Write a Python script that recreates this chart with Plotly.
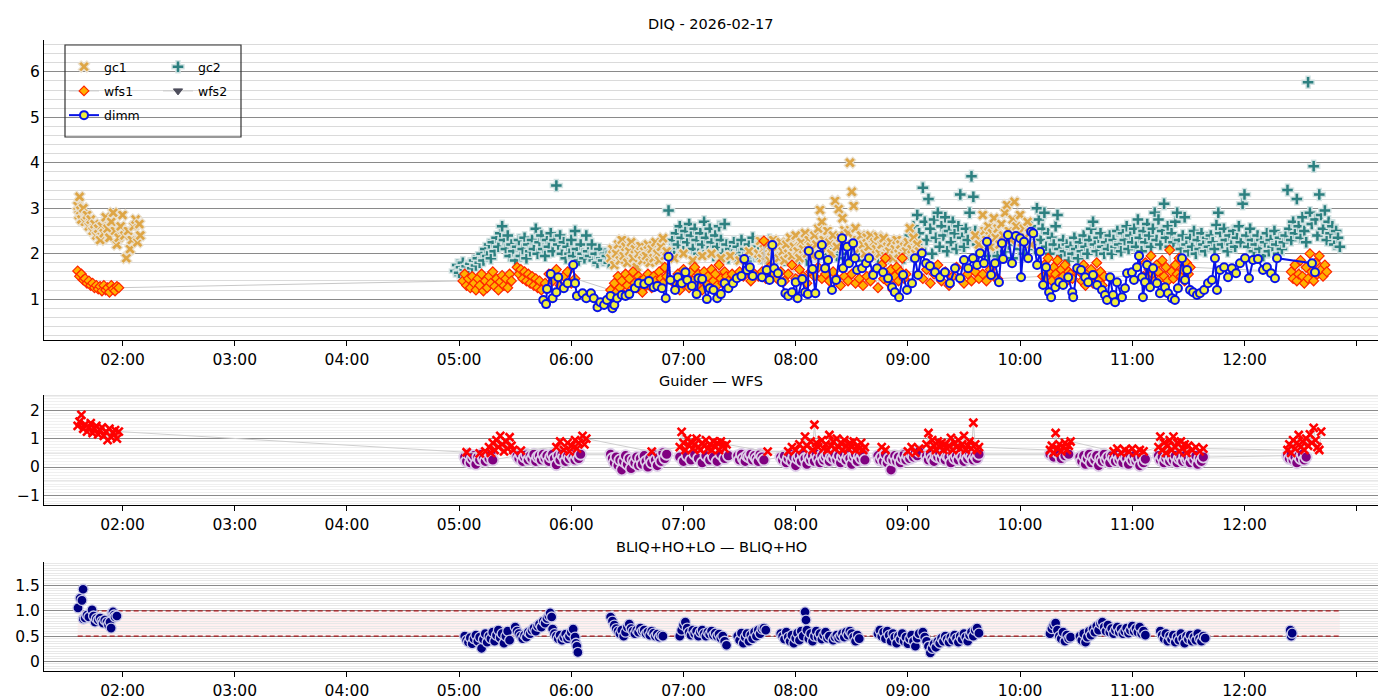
import numpy as np
import pandas as pd
import plotly.graph_objects as go

# all times are minutes after 00:00 on the night of 2026-02-17
night = pd.Timestamp("2026-02-17")
title_top = "DIQ - 2026-02-17"
title_mid = "Guider — WFS"
title_bot = "BLIQ+HO+LO — BLIQ+HO"

hour_ticks = [2, 3, 4, 5, 6, 7, 8, 9, 10, 11, 12, 13]
hour_labels = ["02:00", "03:00", "04:00", "05:00", "06:00", "07:00", "08:00",
               "09:00", "10:00", "11:00", "12:00", ""]

gc1_pts = [
    (96, 3.05), (96.5, 2.85), (97, 3.25), (97.5, 2.95), (98, 2.75), (99, 3.0), (100, 2.7), (101, 2.85),
    (102, 2.6), (103, 2.75), (104, 2.5), (105, 2.65), (106, 2.4), (107, 2.55), (108, 2.3), (109, 2.6),
    (110, 2.45), (111, 2.8), (112, 2.55), (113, 2.35), (114, 2.7), (115, 2.9), (116, 2.5), (117, 2.2),
    (118, 2.35), (119, 2.6), (120, 2.85), (121, 2.4), (122, 1.9), (123, 2.5), (124, 2.1), (125, 2.3),
    (126, 2.6), (127, 2.75), (128, 2.25), (129, 2.65), (129.5, 2.4),
    (381, 1.9), (382, 2.1), (383, 1.75), (384, 2.0), (385, 2.2), (386, 1.85), (387, 2.3), (388, 1.95),
    (389, 2.15), (390, 1.8), (391, 2.05), (392, 2.25), (393, 1.9), (394, 2.1), (395, 1.7), (396, 2.0),
    (397, 2.17), (398, 1.85), (399, 2.05), (400, 1.95), (401, 2.2), (402, 1.8), (403, 2.1), (404, 1.9),
    (405, 2.25), (406, 2.0), (407, 1.85), (408, 2.15), (409, 2.34), (410, 1.95), (411, 2.05),
    (415, 1.9), (420, 2.0), (425, 1.85), (430, 1.95), (435, 2.0), (440, 1.9), (445, 1.95), (450, 1.85),
    (455, 2.05),
    (460, 2.0), (461, 2.28), (462, 1.9), (463, 2.1), (464, 1.95), (465, 2.2), (466, 1.85), (467, 2.05),
    (468, 2.3), (469, 1.95), (470, 2.15), (471, 1.9), (472, 2.25), (473, 2.05), (474, 1.85), (475, 2.2),
    (476, 2.0), (477, 2.35), (478, 1.95), (479, 2.15), (480, 2.4), (481, 2.05), (482, 1.9), (483, 2.25),
    (484, 2.1), (485, 2.45), (486, 2.0), (487, 2.3), (488, 2.15), (489, 1.95), (490, 2.4), (491, 2.2),
    (492, 2.55), (493, 2.96), (494, 2.7), (495, 2.3), (496, 2.1), (497, 2.5), (498, 2.25), (499, 2.0),
    (500, 2.4), (501, 3.16), (502, 2.15), (503, 2.98), (504, 2.35), (505, 2.78), (506, 2.52), (507, 2.2),
    (508, 2.45), (509, 4.0), (510, 3.36), (511, 3.05), (512, 2.56), (513, 2.3), (514, 2.1), (515, 2.4),
    (516, 2.2), (517, 2.0), (518, 2.35), (519, 2.15), (520, 2.4), (521, 1.95), (522, 2.25), (523, 2.1),
    (524, 2.38), (525, 2.0), (526, 2.2), (527, 2.34), (528, 1.95), (529, 2.15), (530, 2.05), (531, 2.25),
    (532, 1.9), (533, 2.1), (534, 2.3), (535, 2.0), (536, 2.2), (537, 1.95), (538, 2.15), (539, 2.05),
    (540, 2.25), (541, 2.56), (542, 2.1), (543, 2.35), (544, 2.0), (545, 2.2), (546, 2.05),
    (576, 2.4), (578, 2.2), (580, 2.85), (581, 2.5), (582, 2.3), (583, 2.6), (584, 2.15), (585, 2.45),
    (586, 2.78), (587, 2.35), (588, 2.55), (589, 2.2), (590, 2.65), (591, 2.4), (592, 2.9), (593, 3.07),
    (594, 2.5), (595, 2.3), (596, 2.75), (597, 3.14), (598, 2.6), (599, 2.4), (600, 2.85), (601, 2.25),
    (602, 2.55), (603, 2.35), (604, 2.7), (605, 2.45), (606, 2.2),
]

gc2_pts = [
    (298, 1.62), (299, 1.75), (300, 1.58), (301, 1.7), (302, 1.8), (303, 1.65), (304, 1.72), (305, 1.6),
    (306, 1.78), (307, 1.68), (308, 1.85), (309, 1.74), (310, 1.9), (311, 1.8), (312, 2.0), (313, 1.85),
    (314, 2.1), (315, 1.95), (316, 2.2), (317, 1.9), (318, 2.25), (319, 2.05), (320, 2.35), (321, 2.15),
    (322, 2.45), (323, 2.6), (324, 2.3), (325, 2.1), (326, 2.4), (327, 1.95), (328, 2.2), (329, 2.05),
    (330, 1.85), (331, 2.15), (332, 2.3), (333, 1.95), (334, 2.1), (335, 2.35), (336, 1.9), (337, 2.2),
    (338, 2.05), (339, 2.3), (340, 2.1), (341, 2.55), (342, 2.0), (343, 2.25), (344, 2.4), (345, 2.1),
    (346, 1.95), (347, 2.3), (348, 2.15), (349, 2.45), (350, 2.05), (351, 2.3), (352, 3.5), (353, 2.2),
    (354, 2.4), (355, 2.0), (356, 2.25), (357, 1.9), (358, 2.15), (359, 2.0), (360, 2.3), (361, 1.95),
    (362, 2.5), (363, 2.1), (364, 1.85), (365, 2.2), (366, 2.0), (367, 1.9), (368, 2.4), (369, 2.05),
    (370, 1.95), (371, 2.2), (372, 1.85), (373, 2.0), (374, 1.8), (375, 2.1), (376, 1.9), (377, 1.85),
    (378, 2.0), (379, 1.95), (380, 1.8),
    (412, 2.95), (413, 2.1), (414, 2.3), (415, 1.95), (416, 2.45), (417, 2.2), (418, 2.6), (419, 2.35),
    (420, 2.05), (421, 2.5), (422, 2.25), (423, 2.65), (424, 2.4), (425, 2.1), (426, 2.55), (427, 2.3),
    (428, 2.0), (429, 2.45), (430, 2.2), (431, 2.7), (432, 2.35), (433, 2.05), (434, 2.55), (435, 2.25),
    (436, 1.95), (437, 2.4), (438, 2.15), (439, 2.6), (440, 2.3), (441, 2.0), (442, 2.65), (443, 2.2),
    (444, 1.9), (445, 2.1), (446, 2.0), (447, 2.25), (448, 1.9), (449, 2.15), (450, 2.0), (451, 2.3),
    (452, 1.95), (453, 2.1), (454, 1.85), (455, 2.2), (456, 2.0), (457, 2.35), (458, 1.95), (459, 2.15),
    (460, 2.05), (461, 1.9), (462, 2.25), (463, 2.0), (464, 2.1), (465, 1.9), (466, 2.3), (467, 2.05),
    (468, 1.95), (469, 2.15),
    (470, 1.9), (472, 2.05), (474, 1.85), (476, 2.0), (478, 1.95), (480, 2.1), (482, 1.9), (484, 2.05),
    (486, 1.85), (488, 2.0), (490, 2.1), (492, 1.95), (494, 2.05), (496, 1.9), (498, 2.0), (500, 2.1),
    (502, 1.95), (504, 2.05), (506, 1.9), (508, 2.0), (510, 2.1), (512, 1.95), (514, 2.05), (516, 1.85),
    (518, 2.0), (520, 1.95), (522, 2.1), (524, 1.9), (526, 2.0), (528, 2.05), (530, 1.9), (532, 2.1),
    (534, 1.95), (536, 2.05), (538, 1.9),
    (540, 2.1), (541, 2.4), (542, 1.95), (543, 2.6), (544, 2.2), (545, 2.85), (546, 2.45), (547, 2.1),
    (548, 3.45), (549, 2.7), (550, 2.3), (551, 3.2), (552, 2.55), (553, 2.0), (554, 2.75), (555, 2.35),
    (556, 2.9), (557, 2.15), (558, 2.6), (559, 2.4), (560, 2.8), (561, 2.05), (562, 2.5), (563, 2.25),
    (564, 2.7), (565, 2.45), (566, 2.1), (567, 2.6), (568, 3.3), (569, 2.35), (570, 2.15), (571, 2.55),
    (572, 2.3), (573, 2.9), (574, 3.7), (575, 3.25), (576, 2.5), (577, 2.2), (578, 2.4), (579, 2.05),
    (580, 2.3), (581, 2.15), (582, 2.45), (583, 1.95), (584, 2.25),
    (586, 2.1), (588, 1.95), (590, 2.3), (592, 2.05), (594, 2.2), (596, 1.9), (598, 2.4), (600, 2.1),
    (602, 2.0), (604, 2.35),
    (605, 2.2), (606, 2.6), (607, 2.4), (608, 2.1), (609, 3.0), (610, 2.75), (611, 2.3), (612, 2.55),
    (613, 2.9), (614, 2.15), (615, 2.45), (616, 2.0), (617, 2.35), (618, 2.2), (619, 2.6), (620, 2.85),
    (621, 2.1), (622, 1.95), (623, 2.3), (624, 2.05), (625, 2.2), (626, 1.85), (627, 2.15), (628, 2.0),
    (629, 2.35), (630, 2.1), (631, 1.9), (632, 2.25), (633, 2.05), (634, 2.4), (635, 2.15), (636, 2.0),
    (637, 2.3), (638, 2.55), (639, 2.7), (640, 2.2), (641, 2.05), (642, 2.35), (643, 2.45), (644, 2.15),
    (645, 2.0), (646, 2.25), (647, 2.1), (648, 2.4), (649, 2.0), (650, 2.3), (651, 2.15), (652, 2.5),
    (653, 2.2), (654, 2.05), (655, 2.45), (656, 2.3), (657, 2.6), (658, 2.1), (659, 2.4), (660, 2.25),
    (661, 2.55), (662, 2.15), (663, 2.75), (664, 2.35), (665, 2.05), (666, 2.5), (667, 2.25), (668, 2.65),
    (669, 2.4), (670, 2.15), (671, 2.55), (672, 2.9), (673, 2.3), (674, 2.75), (675, 2.2), (676, 2.5),
    (677, 3.1), (678, 2.35), (679, 2.6), (680, 2.15), (681, 2.45), (682, 2.25), (683, 2.7), (684, 2.9),
    (685, 2.3), (686, 2.1), (687, 2.4), (688, 2.8), (689, 2.2), (690, 2.05), (691, 2.35), (692, 2.15),
    (693, 2.5), (694, 2.0), (695, 2.3), (696, 2.1), (697, 2.45), (698, 2.2), (699, 2.05), (700, 2.35),
    (701, 2.15), (702, 2.4), (703, 2.25), (704, 2.1), (705, 2.63), (706, 2.9), (707, 2.45), (708, 2.2),
    (709, 2.55), (710, 2.3), (711, 2.05), (712, 2.4), (713, 2.2), (714, 2.5), (715, 2.15), (716, 2.35),
    (717, 2.6), (718, 2.25), (719, 3.1), (720, 3.3), (721, 2.4), (722, 2.15), (723, 2.55), (724, 2.3),
    (725, 2.05), (726, 2.2), (727, 2.4), (728, 2.1), (729, 2.3), (730, 1.95), (731, 2.25), (732, 2.45),
    (733, 2.05), (734, 2.3), (735, 2.15), (736, 2.5), (737, 2.2), (738, 2.0), (739, 2.35), (740, 2.1),
    (741, 2.25), (742, 2.4), (743, 3.4), (744, 2.55), (745, 2.3), (746, 2.7), (747, 2.45), (748, 3.2),
    (749, 2.6), (750, 2.35), (751, 2.8), (752, 2.5), (753, 2.25), (754, 5.77), (755, 2.9), (756, 2.65),
    (757, 3.92), (758, 2.75), (759, 2.4), (760, 3.3), (761, 2.85), (762, 2.55), (763, 2.95), (764, 2.3),
    (765, 2.7), (766, 2.45), (767, 2.6), (768, 2.2), (769, 2.5), (770, 2.35), (771, 2.15),
]

wfs1_pts = [
    (96, 1.62), (97, 1.5), (98, 1.55), (99, 1.42), (100, 1.45), (101, 1.35), (102, 1.4), (103, 1.3),
    (104, 1.35), (105, 1.25), (106, 1.3), (107, 1.22), (108, 1.28), (109, 1.18), (110, 1.3), (111, 1.2),
    (112, 1.25), (113, 1.15), (114, 1.3), (115, 1.22), (116, 1.18), (117, 1.28), (118, 1.25),
    (302, 1.4), (303, 1.55), (304, 1.3), (305, 1.45), (306, 1.25), (307, 1.5), (308, 1.35), (309, 1.2),
    (310, 1.45), (311, 1.3), (312, 1.55), (313, 1.18), (314, 1.4), (315, 1.25), (316, 1.5), (317, 1.35),
    (318, 1.6), (319, 1.28), (320, 1.45), (321, 1.2), (322, 1.38), (323, 1.52), (324, 1.3), (325, 1.45),
    (326, 1.25), (327, 1.55), (328, 1.4),
    (331, 1.7), (332, 1.55), (333, 1.65), (334, 1.45), (335, 1.6), (336, 1.4), (337, 1.55), (338, 1.35),
    (339, 1.5), (340, 1.3), (341, 1.45), (342, 1.25), (343, 1.4), (344, 1.2),
    (346, 1.35), (348, 1.55), (350, 1.4), (352, 1.65), (354, 1.3), (356, 1.5), (358, 1.6), (360, 1.35),
    (362, 1.45),
    (381, 1.2), (382, 1.05), (383, 1.35), (384, 1.15), (385, 1.5), (386, 1.25), (387, 1.4), (388, 1.1),
    (389, 1.55), (390, 1.3), (391, 1.45), (392, 1.2), (393, 1.6), (394, 1.35), (395, 1.25), (396, 1.5),
    (397, 1.4), (398, 1.15), (399, 1.45), (400, 1.3), (401, 1.55), (402, 1.35), (403, 1.25), (404, 1.5),
    (405, 1.4), (406, 1.3), (407, 1.6), (408, 1.45), (409, 1.35), (410, 1.7), (411, 1.5),
    (416, 1.3), (417, 1.55), (418, 1.2), (419, 1.45), (420, 1.65), (421, 1.35), (422, 1.5), (423, 1.25),
    (424, 1.6), (425, 1.4), (426, 1.7), (427, 1.3), (428, 1.55), (429, 1.45), (430, 1.2), (431, 1.6),
    (432, 1.35), (433, 1.5), (434, 1.25), (435, 1.65), (436, 1.4), (437, 1.55), (438, 1.3), (439, 1.75),
    (440, 1.45), (441, 1.35), (442, 1.6), (443, 1.5), (444, 1.4),
    (446, 1.55), (448, 1.45), (450, 1.6), (452, 1.5), (454, 1.65), (456, 1.4), (458, 1.55), (460, 1.5),
    (462, 1.6), (463, 2.28), (464, 1.45), (466, 1.7), (468, 1.55), (470, 1.45),
    (472, 1.6), (474, 1.4), (476, 1.55), (478, 1.75), (480, 1.45), (482, 1.65), (484, 1.5), (486, 1.35),
    (488, 1.6), (490, 1.5), (492, 1.7), (494, 1.45), (496, 1.55), (498, 1.4), (500, 1.6),
    (502, 1.45), (504, 1.3), (506, 1.5), (508, 1.4), (510, 1.55), (512, 1.35), (514, 1.45), (516, 1.3),
    (518, 1.5), (520, 1.4), (522, 1.6), (524, 1.25), (526, 1.75), (527, 1.45), (528, 1.9), (529, 1.55),
    (530, 1.35), (531, 1.65), (532, 1.2), (533, 1.5), (534, 1.7), (535, 1.4), (536, 1.6), (537, 1.9),
    (538, 1.45), (539, 1.55),
    (548, 1.45), (550, 1.65), (552, 1.35), (554, 1.55), (556, 1.75), (558, 1.4), (560, 1.6), (562, 1.3),
    (564, 1.5), (566, 1.7), (568, 1.45), (570, 1.35), (572, 1.55), (574, 1.4), (576, 1.6), (578, 1.45),
    (580, 1.55), (582, 1.4), (584, 1.65), (586, 1.5), (588, 1.45),
    (612, 1.5), (613, 1.75), (614, 1.45), (615, 1.9), (616, 1.6), (617, 1.4), (618, 1.7), (619, 1.55),
    (620, 1.85), (621, 1.45), (622, 1.65), (623, 1.5), (624, 1.75), (625, 1.4), (626, 1.6), (627, 1.55),
    (628, 1.45), (632, 1.6), (633, 1.4), (634, 1.75), (635, 1.3), (636, 1.55), (637, 1.45), (638, 1.65),
    (639, 1.35), (640, 1.5), (641, 1.8), (642, 1.4), (643, 1.6), (644, 1.3), (645, 1.5),
    (666, 1.5), (667, 1.8), (668, 1.45), (669, 1.65), (670, 1.95), (671, 1.55), (672, 1.4), (673, 1.75),
    (674, 1.6), (675, 1.45), (676, 1.85), (677, 1.5), (678, 1.7), (679, 1.4), (680, 2.08), (681, 1.6),
    (682, 1.45), (683, 1.75), (684, 1.55), (685, 1.9), (686, 1.5), (687, 1.65), (688, 1.4), (689, 1.8),
    (690, 1.55), (691, 1.7),
    (745, 1.6), (746, 1.45), (747, 1.75), (748, 1.4), (749, 1.55), (750, 1.85), (751, 1.5), (752, 1.35),
    (753, 1.7), (754, 1.45), (755, 2.0), (756, 1.6), (757, 1.4), (758, 1.8), (759, 1.55), (760, 1.95),
    (761, 1.65), (762, 1.5), (763, 1.75), (764, 1.6),
]

# wfs2 has no valid sample this night
wfs2_pts = [(None, None)]

dimm_pts = [
    (345, 0.98), (346.5, 0.89), (347, 1.22), (349, 1.55), (350, 1.02), (352, 1.15), (353, 1.48), (356, 1.24),
    (358, 1.35), (361, 1.75), (362, 1.35), (363, 1.07), (366, 1.13), (368, 1.02), (370.5, 1.13), (372, 1.02),
    (374, 0.82), (375.5, 0.93), (377.5, 0.87), (379, 0.98), (381, 1.07), (382, 0.8), (383, 0.87), (384.5, 1.02),
    (387, 1.09), (389, 1.07), (391, 1.11), (394, 1.24), (396, 1.35), (399, 1.33), (401.5, 1.4), (404, 1.26),
    (406, 1.29), (408.5, 1.24), (410.5, 1.02), (412, 1.93), (413, 1.42), (415.5, 1.2), (417, 1.48), (419, 1.35),
    (421, 1.59), (422, 1.42), (424.5, 1.29), (427, 1.11), (428, 1.46), (430, 1.44), (432.5, 1.0), (434, 1.24),
    (436, 1.2), (438, 1.02), (440, 1.11), (442, 1.35), (444, 1.24), (446.5, 1.35), (448.5, 1.46), (451, 1.51),
    (452.5, 1.88), (454, 1.64), (455.5, 1.7), (457, 1.51), (462, 1.48), (464.5, 1.64), (466, 1.42), (467.5, 2.19),
    (468.5, 1.68), (470.5, 1.57), (472.5, 1.37), (474.5, 1.13), (476, 1.07), (478, 1.15), (480, 1.37), (481, 1.02),
    (483.5, 1.44), (485, 1.15), (486.5, 1.11), (487, 2.06), (489, 1.66), (490.5, 1.13), (492.5, 1.97), (494, 2.19),
    (495.7, 1.68), (497.3, 1.86), (499.4, 1.2), (501.6, 1.42), (504.8, 2.34), (505.3, 1.68), (507.5, 2.15), (508.5, 1.79),
    (510.7, 2.23), (511.7, 1.9), (512.8, 1.64), (515.5, 1.68), (517.6, 1.79), (519.2, 1.9), (521.4, 1.53), (523.5, 1.68),
    (526.7, 1.59), (529.4, 1.46), (531.5, 1.26), (533, 1.15), (535.3, 1.04), (537.4, 1.53), (539.5, 1.2), (542.2, 1.35),
    (543.8, 1.9), (545.4, 1.53), (547.5, 2.01), (549.7, 1.79), (551.8, 1.73), (554.5, 1.59), (557.2, 1.48), (559.8, 1.59),
    (562.5, 1.35), (565.2, 1.68), (567.9, 1.46), (570, 1.86), (572.2, 1.68), (574.8, 1.9), (577, 1.75), (578.6, 2.01),
    (580.7, 1.79), (582.3, 2.26), (584.5, 1.53), (586.6, 1.79), (588.7, 1.37), (590.3, 2.23), (590.9, 1.88), (593.5, 2.41),
    (595.7, 1.79), (597.8, 2.39), (600, 2.34), (600.5, 1.48), (602.1, 2.26), (604.3, 1.9), (605.9, 2.48), (607, 2.45),
    (609.1, 1.75), (610.7, 2.04), (612.3, 1.31), (613.9, 1.7), (615.5, 1.15), (616.6, 1.04), (618.8, 1.26), (620.9, 1.37),
    (623, 1.31), (625.7, 1.48), (627.9, 1.15), (628.4, 1.04), (630.5, 1.68), (632.6, 1.64), (634.8, 1.48), (636.4, 1.37),
    (639, 1.53), (641.2, 1.31), (643.8, 1.2), (645.4, 1.09), (646.5, 0.98), (648.1, 1.48), (649.7, 1.09), (650.8, 0.93),
    (651.8, 1.37), (654.5, 1.04), (656.1, 1.24), (657.2, 1.57), (659.8, 1.59), (660.9, 1.42), (662.5, 1.7), (663.6, 1.95),
    (665.2, 1.48), (665.7, 1.04), (666.8, 1.37), (667.9, 1.75), (669.5, 1.26), (671.1, 1.68), (673.2, 1.35), (674.8, 1.13),
    (677.5, 1.26), (679.1, 1.13), (681.2, 1.02), (682.8, 0.98), (684.4, 1.24), (686.6, 1.9), (688.2, 1.42), (689.3, 1.64),
    (690.9, 1.2), (692.5, 1.15), (694.6, 1.09), (696.2, 1.13), (698.4, 1.2), (700.5, 1.35), (702.6, 1.42), (704.2, 1.9),
    (705.3, 1.2), (706.9, 1.64), (709.1, 1.7), (711.2, 1.48), (713.3, 1.68), (715.5, 1.57), (717.6, 1.79), (720.3, 1.9),
    (722.4, 1.46), (724.6, 1.86), (727.2, 1.88), (729.9, 1.64), (732, 1.7), (734.2, 1.57), (736.3, 1.46), (737.4, 1.9),
    (756.1, 1.79), (757.7, 1.59),
]

guider_pts = [
    (96, 1.45), (97, 1.6), (98, 1.84), (99, 1.35), (100, 1.5), (101, 1.25), (102, 1.4), (103, 1.55),
    (104, 1.2), (105, 1.35), (106, 1.45), (107, 1.15), (108, 1.3), (109, 1.4), (110, 1.1), (111, 1.25),
    (112, 0.95), (113, 1.35), (114, 1.05), (115, 1.2), (116, 1.3), (117, 1.0), (118, 1.25),
    (304, 0.52), (311, 0.48), (314, 0.55), (316, 0.7), (317, 0.5), (318, 0.85), (319, 0.6), (320, 0.95),
    (321, 0.7), (322, 1.1), (323, 0.8), (324, 0.55), (325, 0.9), (326, 0.65), (327, 1.05), (328, 0.75),
    (329, 0.6), (333, 0.58), (352, 0.7), (354, 0.9), (356, 0.6), (358, 0.85), (359, 0.55), (360, 0.75),
    (362, 0.95), (363, 0.65), (364, 0.85), (366, 1.1), (367, 0.8), (368, 1.0),
    (403, 0.54),
    (418, 0.7), (419, 1.24), (420, 0.85), (421, 0.6), (422, 1.0), (423, 0.75), (424, 0.9), (425, 0.65),
    (426, 0.8), (427, 1.0), (428, 0.7), (429, 0.6), (430, 0.85), (431, 0.75), (432, 0.95), (433, 0.65),
    (434, 0.8), (435, 0.6), (436, 0.9), (437, 0.7), (438, 0.85), (439, 0.6), (440, 0.9), (441, 0.75),
    (442, 0.65), (443, 0.8),
    (465, 0.54),
    (476, 0.55), (478, 0.7), (480, 0.6), (482, 0.8), (484, 0.65), (485, 1.07), (486, 0.75), (488, 0.9),
    (489, 0.6), (490, 1.49), (491, 0.85), (492, 0.7), (494, 0.95), (495, 0.65), (496, 0.8), (497, 0.6),
    (498, 1.13), (499, 0.75), (500, 0.9), (501, 0.65), (502, 1.0), (503, 0.7), (504, 0.85), (505, 0.6),
    (506, 0.95), (507, 0.75), (508, 0.65), (509, 0.85), (510, 0.7), (511, 0.9), (512, 0.6), (513, 0.75),
    (514, 0.65), (515, 0.85), (516, 0.6), (517, 0.7),
    (526, 0.7), (528, 0.6), (540, 0.55), (542, 0.7), (544, 0.5), (546, 0.65),
    (550, 0.8), (551, 1.2), (552, 0.65), (553, 0.95), (554, 0.75), (555, 0.6), (556, 0.9), (557, 0.7),
    (558, 0.85), (559, 0.6), (560, 0.8), (561, 0.65), (562, 0.75), (563, 1.03), (564, 0.6), (565, 0.85),
    (566, 0.7), (567, 0.95), (568, 0.65), (569, 0.8), (570, 1.1), (571, 0.6), (572, 0.75), (573, 0.9),
    (574, 0.65), (575, 1.56), (576, 0.8), (577, 0.6), (578, 0.7),
    (616, 0.6), (617, 0.75), (618, 0.5), (619, 1.2), (620, 0.65), (621, 0.8), (622, 0.55), (623, 0.7),
    (624, 0.85), (625, 0.6), (626, 0.75), (627, 0.9),
    (650, 0.55), (652, 0.65), (654, 0.5), (656, 0.6), (658, 0.55), (660, 0.65), (662, 0.5), (664, 0.6),
    (666, 0.55),
    (674, 0.7), (675, 1.07), (676, 0.6), (677, 0.85), (678, 0.5), (679, 0.75), (680, 0.95), (681, 0.6),
    (682, 1.07), (683, 0.7), (684, 0.85), (685, 0.55), (686, 0.9), (687, 0.65), (688, 0.8), (689, 0.5),
    (690, 0.75), (692, 0.6), (694, 0.7), (696, 0.55), (698, 0.65),
    (743, 0.6), (744, 0.8), (745, 0.5), (746, 0.95), (747, 0.65), (748, 0.85), (749, 1.13), (750, 0.7),
    (751, 0.9), (752, 0.6), (753, 1.0), (754, 0.75), (755, 1.15), (756, 0.85), (757, 1.38), (758, 0.95),
    (759, 0.7), (760, 0.6), (761, 1.25),
]

wfs_pts = [
    (303, 0.35), (304, 0.2), (305, 0.45), (306, 0.15), (307, 0.3), (308, 0.4), (309, 0.1), (310, 0.35),
    (311, 0.25), (312, 0.45), (313, 0.3), (314, 0.2), (315, 0.4), (316, 0.3), (317, 0.45), (318, 0.25),
    (331, 0.4), (332, 0.3), (333, 0.45), (334, 0.2), (335, 0.35), (336, 0.45), (337, 0.25), (338, 0.4),
    (339, 0.3), (340, 0.45), (341, 0.2), (342, 0.35), (343, 0.4), (344, 0.25), (345, 0.45), (346, 0.3),
    (347, 0.4), (348, 0.2), (349, 0.35), (350, 0.45), (351, 0.3), (352, 0.08), (353, 0.4), (354, 0.25),
    (355, 0.45), (356, 0.35), (357, 0.2), (358, 0.4), (359, 0.3), (360, 0.45), (361, 0.35), (362, 0.25),
    (363, 0.4), (364, 0.3), (365, 0.45),
    (381, 0.45), (382, 0.3), (383, 0.15), (384, 0.35), (385, 0.05), (386, 0.25), (387, -0.1), (388, 0.2),
    (389, 0.4), (390, 0.1), (391, 0.3), (392, -0.05), (393, 0.25), (394, 0.15), (395, 0.35), (396, 0.05),
    (397, 0.3), (398, 0.1), (399, 0.4), (400, 0.2), (401, 0.0), (402, 0.3), (403, 0.15), (404, 0.45),
    (405, 0.25), (406, 0.05), (407, 0.35), (408, 0.2), (409, 0.5), (410, 0.3), (411, 0.45),
    (418, 0.35), (420, 0.2), (422, 0.4), (424, 0.25), (426, 0.45), (428, 0.3), (430, 0.15), (432, 0.4),
    (434, 0.25), (436, 0.35), (438, 0.2), (440, 0.45), (442, 0.3), (444, 0.4),
    (449, 0.4), (450, 0.25), (451, 0.45), (452, 0.3), (453, 0.2), (454, 0.4), (455, 0.35), (456, 0.45),
    (457, 0.25), (458, 0.4), (459, 0.3), (460, 0.2), (461, 0.45), (462, 0.35), (463, 0.25),
    (472, 0.35), (473, 0.25), (474, 0.4), (475, 0.15), (476, 0.3), (477, 0.45), (478, 0.2), (479, 0.35),
    (480, 0.05), (481, 0.3), (482, 0.4), (483, 0.2), (484, 0.45), (485, 0.3), (486, 0.1), (487, 0.35),
    (488, 0.25), (489, 0.4), (490, 0.2), (491, 0.45), (492, 0.3), (493, 0.15), (494, 0.4), (495, 0.25),
    (496, 0.35), (497, 0.45), (498, 0.2), (499, 0.35), (500, 0.3), (501, 0.45), (502, 0.25), (503, 0.4),
    (504, 0.15), (505, 0.35), (506, 0.45), (507, 0.25), (508, 0.4), (509, 0.3), (510, 0.1), (511, 0.35),
    (512, 0.45), (513, 0.2), (514, 0.4), (515, 0.3), (516, 0.45), (517, 0.25),
    (524, 0.4), (525, 0.25), (526, 0.35), (527, 0.2), (528, 0.45), (529, 0.15), (530, 0.3), (531, -0.1),
    (532, 0.25), (533, 0.4), (534, 0.2), (535, 0.35), (536, 0.15), (537, 0.3), (538, 0.45), (539, 0.25),
    (540, 0.4), (541, 0.3), (542, 0.45), (543, 0.35), (544, 0.5), (545, 0.4), (546, 0.55),
    (550, 0.4), (551, 0.25), (552, 0.45), (553, 0.3), (554, 0.2), (555, 0.4), (556, 0.35), (557, 0.5),
    (558, 0.3), (559, 0.45), (560, 0.25), (561, 0.4), (562, 0.35), (563, 0.15), (564, 0.45), (565, 0.3),
    (566, 0.4), (567, 0.25), (568, 0.45), (569, 0.35), (570, 0.2), (571, 0.4), (572, 0.3), (573, 0.45),
    (574, 0.35), (575, 0.25), (576, 0.4), (577, 0.3), (578, 0.45),
    (616, 0.45), (618, 0.35), (620, 0.5), (622, 0.3), (624, 0.4), (626, 0.45),
    (632, 0.35), (633, 0.2), (634, 0.4), (635, 0.1), (636, 0.3), (637, 0.45), (638, 0.15), (639, 0.35),
    (640, 0.25), (641, 0.4), (642, 0.05), (643, 0.3), (644, 0.2), (645, 0.45), (646, 0.25), (647, 0.35),
    (648, 0.15), (649, 0.4), (650, 0.3), (651, 0.2), (652, 0.45), (653, 0.25), (654, 0.35), (655, 0.15),
    (656, 0.4), (657, 0.3), (658, 0.1), (659, 0.35), (660, 0.25), (661, 0.4), (662, 0.2), (663, 0.3),
    (664, 0.05), (665, 0.35), (666, 0.15), (667, 0.28),
    (674, 0.4), (675, 0.25), (676, 0.35), (677, 0.15), (678, 0.3), (679, 0.4), (680, 0.2), (681, 0.35),
    (682, 0.25), (683, 0.4), (684, 0.15), (685, 0.3), (686, 0.35), (687, 0.2), (688, 0.4), (689, 0.25),
    (690, 0.3), (691, 0.15), (692, 0.35), (693, 0.25), (694, 0.4), (695, 0.1), (696, 0.3), (697, 0.2),
    (698, 0.35),
    (743, 0.4), (744, 0.3), (745, 0.45), (746, 0.25), (747, 0.35), (748, 0.15), (749, 0.4), (750, 0.3),
    (751, 0.45), (752, 0.25), (753, 0.35),
]

bliq_pts = [
    (96.2, 1.06), (97.3, 1.25), (98.3, 1.21), (98.9, 1.43), (99, 0.84), (100, 0.86), (101, 0.92), (102, 0.88),
    (103.7, 1.02), (104.5, 0.9), (105.3, 0.78), (106, 0.85), (107, 0.82), (108, 0.86), (109, 0.8), (109.6, 0.76),
    (110.5, 0.82), (111.7, 0.78), (112.5, 0.72), (113.3, 0.78), (113.9, 0.66), (114.4, 0.96), (114.9, 0.98),
    (115.5, 0.92), (116, 0.88), (117, 0.9),
    (303, 0.5), (304, 0.42), (305, 0.38), (306, 0.47), (307, 0.35), (308, 0.45), (309, 0.52), (310, 0.4),
    (311, 0.48), (312, 0.26), (313, 0.44), (314, 0.55), (315, 0.38), (316, 0.5), (317, 0.45), (318, 0.58),
    (319, 0.4), (320, 0.52), (321, 0.62), (322, 0.47), (323, 0.55), (324, 0.36), (325, 0.5), (326, 0.6),
    (327, 0.42),
    (330, 0.68), (331, 0.6), (332, 0.55), (333, 0.5), (334, 0.45), (335, 0.52), (336, 0.48), (337, 0.58),
    (338, 0.55), (339, 0.62), (340, 0.66), (341, 0.6), (342, 0.7), (343, 0.74), (344, 0.68), (345, 0.8),
    (346, 0.76), (347, 0.85), (348, 0.9), (348.7, 0.96), (349.5, 0.88),
    (350, 0.64), (351, 0.55), (352, 0.5), (353, 0.45), (354, 0.52), (355, 0.42), (356, 0.48), (357, 0.54),
    (358, 0.45), (359, 0.5), (360, 0.58), (361, 0.64), (362, 0.48), (362.5, 0.36), (363, 0.3), (363.5, 0.18),
    (381, 0.88), (382, 0.8), (383, 0.72), (384, 0.65), (385, 0.6), (386, 0.55), (387, 0.62), (388, 0.5),
    (389, 0.58), (390, 0.68), (391, 0.74), (392, 0.65), (393, 0.6), (394, 0.55), (395, 0.62), (396, 0.58),
    (397, 0.66), (398, 0.6), (399, 0.62), (400, 0.55), (401, 0.58), (402, 0.52), (403, 0.6), (404, 0.56),
    (405, 0.5), (406, 0.54), (407, 0.48), (408, 0.52), (409, 0.5),
    (418, 0.5), (419, 0.62), (420, 0.72), (421, 0.78), (422, 0.66), (423, 0.58), (424, 0.52), (425, 0.62),
    (426, 0.55), (427, 0.6), (428, 0.5), (429, 0.58), (430, 0.62), (431, 0.55), (432, 0.5), (433, 0.58),
    (434, 0.54), (435, 0.6), (436, 0.52), (437, 0.56), (438, 0.5), (439, 0.54), (440, 0.46), (441, 0.5),
    (442, 0.4), (443, 0.32),
    (449, 0.5), (450, 0.42), (451, 0.56), (452, 0.36), (453, 0.48), (454, 0.55), (455, 0.4), (456, 0.52),
    (457, 0.45), (458, 0.58), (459, 0.5), (460, 0.62), (461, 0.55), (462, 0.64), (463, 0.66), (464, 0.62),
    (472, 0.55), (473, 0.5), (474, 0.44), (475, 0.58), (476, 0.48), (477, 0.4), (478, 0.52), (479, 0.36),
    (480, 0.46), (481, 0.56), (482, 0.42), (483, 0.6), (484, 0.5), (485, 0.98), (485.5, 0.82), (486, 0.62),
    (487, 0.45), (488, 0.55), (489, 0.4), (490, 0.5), (491, 0.6), (492, 0.48), (493, 0.55), (494, 0.44),
    (495, 0.52), (496, 0.58), (497, 0.46), (498, 0.5), (500, 0.42), (501, 0.48), (502, 0.52), (503, 0.46),
    (504, 0.5), (505, 0.55), (506, 0.48), (507, 0.58), (508, 0.52), (509, 0.6), (510, 0.55), (511, 0.48),
    (512, 0.4), (513, 0.52), (514, 0.45),
    (524, 0.55), (525, 0.62), (526, 0.5), (527, 0.58), (528, 0.45), (529, 0.6), (530, 0.52), (531, 0.4),
    (532, 0.55), (533, 0.48), (534, 0.36), (535, 0.5), (536, 0.44), (537, 0.55), (538, 0.4), (539, 0.48),
    (540, 0.35), (541, 0.45), (542, 0.52), (543, 0.4), (544, 0.3), (545, 0.46), (546, 0.55), (548, 0.58),
    (549, 0.48), (550, 0.4), (551, 0.3), (552, 0.17), (553, 0.26), (554, 0.35), (555, 0.28), (556, 0.4),
    (557, 0.36), (558, 0.46), (559, 0.4), (560, 0.5), (561, 0.44), (562, 0.38), (563, 0.48), (564, 0.42),
    (565, 0.52), (566, 0.46), (567, 0.38), (568, 0.5), (569, 0.44), (570, 0.55), (571, 0.48), (572, 0.4),
    (573, 0.52), (574, 0.58), (575, 0.5), (576, 0.62), (577, 0.66), (578, 0.56),
    (616, 0.55), (617, 0.65), (618, 0.72), (619, 0.76), (620, 0.62), (621, 0.5), (622, 0.45), (623, 0.58),
    (624, 0.4), (625, 0.52), (626, 0.45), (627, 0.48),
    (632, 0.5), (633, 0.42), (634, 0.55), (635, 0.38), (636, 0.48), (637, 0.6), (638, 0.52), (639, 0.64),
    (640, 0.58), (641, 0.7), (642, 0.62), (643, 0.75), (644, 0.78), (645, 0.68), (646, 0.6), (647, 0.72),
    (648, 0.58), (649, 0.65), (650, 0.55), (651, 0.62), (652, 0.68), (653, 0.58), (654, 0.64), (655, 0.55),
    (656, 0.6), (657, 0.66), (658, 0.56), (659, 0.62), (660, 0.7), (661, 0.6), (662, 0.65), (663, 0.58),
    (664, 0.68), (665, 0.55), (666, 0.6), (667, 0.52),
    (675, 0.6), (676, 0.52), (677, 0.45), (678, 0.55), (679, 0.4), (680, 0.5), (681, 0.44), (682, 0.52),
    (683, 0.38), (684, 0.48), (685, 0.42), (686, 0.55), (687, 0.45), (688, 0.36), (689, 0.5), (690, 0.44),
    (691, 0.52), (692, 0.4), (693, 0.48), (694, 0.42), (695, 0.55), (696, 0.45), (697, 0.4), (698, 0.5),
    (699, 0.46),
    (744.5, 0.62), (745, 0.5), (745.5, 0.56),
]

band_span = [96, 771]
band_lo, band_hi = 0.5, 1.0

W, H = 1400, 700


def px_x(p):
    return p / W


def px_y(p):
    return 1 - p / H


def to_time(minutes):
    m = [np.nan if x is None else x for x in minutes]
    return night + pd.to_timedelta(np.asarray(m, dtype=float), unit="min")


def split(pts):
    t, v = zip(*pts)
    return to_time(t), list(v)


FONT = "DejaVu Sans"
MAJOR = "#8a8a8a"

fig = go.Figure()

t, v = split(gc2_pts)
fig.add_trace(go.Scatter(x=t, y=v, mode="markers", name="gc2", legend="legend2",
                         legendgroup="gc2", xaxis="x", yaxis="y",
                         marker=dict(symbol="cross", size=10, color="#2c8080",
                                     line=dict(color="rgba(212,228,228,0.95)", width=1.5))))
t, v = split(gc1_pts)
fig.add_trace(go.Scatter(x=t, y=v, mode="markers", name="gc1", legend="legend",
                         legendgroup="gc1", xaxis="x", yaxis="y",
                         marker=dict(symbol="x", size=10, color="#dea646",
                                     line=dict(color="rgba(234,224,208,0.95)", width=1.3))))
t, v = split(wfs1_pts)
fig.add_trace(go.Scatter(x=t, y=v, mode="lines+markers", name="wfs1", legend="legend",
                         legendgroup="wfs1", xaxis="x", yaxis="y",
                         line=dict(color="#c8c8c8", width=1),
                         marker=dict(symbol="diamond", size=7.5, color="#ffb000",
                                     line=dict(color="#ff2400", width=1.2))))
t, v = split(wfs2_pts)
fig.add_trace(go.Scatter(x=t, y=v, mode="lines+markers", name="wfs2", legend="legend2",
                         legendgroup="wfs2", xaxis="x", yaxis="y",
                         line=dict(color="#c8c8c8", width=1),
                         marker=dict(symbol="triangle-down", size=8, color="#4e4e5c",
                                     line=dict(color="#4e4e5c", width=1))))
t, v = split(dimm_pts)
fig.add_trace(go.Scatter(x=t, y=v, mode="lines+markers", name="dimm", legend="legend",
                         legendgroup="dimm", xaxis="x", yaxis="y",
                         line=dict(color="#0a14e6", width=2),
                         marker=dict(symbol="circle", size=8, color="#f0ee3c",
                                     line=dict(color="#0a14e6", width=2))))

# guider / wfs panel
t, v = split(wfs_pts)
fig.add_trace(go.Scatter(x=t, y=v, mode="lines+markers", showlegend=False,
                         xaxis="x2", yaxis="y2",
                         line=dict(color="#cfcfcf", width=1),
                         marker=dict(symbol="circle", size=11, color="#800080",
                                     line=dict(color="#ddcde8", width=1.8))))
t, v = split(guider_pts)
fig.add_trace(go.Scatter(x=t, y=v, mode="lines+markers", showlegend=False,
                         xaxis="x2", yaxis="y2",
                         line=dict(color="#cfcfcf", width=1),
                         marker=dict(symbol="x-thin", size=8, color="#ff0000",
                                     line=dict(color="#ff0000", width=2.6))))

# bliq panel
for lvl in (band_hi, band_lo):
    fig.add_trace(go.Scatter(x=to_time(band_span), y=[lvl, lvl], mode="lines", showlegend=False,
                             xaxis="x3", yaxis="y3", hoverinfo="skip",
                             line=dict(color="#a8181c", width=1.2, dash="5px,3px")))
t, v = split(bliq_pts)
fig.add_trace(go.Scatter(x=t, y=v, mode="markers", showlegend=False,
                         xaxis="x3", yaxis="y3",
                         marker=dict(symbol="circle", size=10, color="#000080",
                                     line=dict(color="#c8c8e8", width=1.3))))

bt = to_time(band_span)
shapes = [dict(type="rect", xref="x3", yref="y3", x0=bt[0], x1=bt[1], y0=band_lo, y1=band_hi,
               fillcolor="rgba(255,0,0,0.06)", line=dict(width=0), layer="below")]
# half-unit gridlines of the guider panel
for h in (2.5, 1.5, 0.5, -0.5):
    shapes.append(dict(type="line", xref="x2 domain", yref="y2", x0=0, x1=1, y0=h, y1=h,
                       line=dict(color="#b4b4b4", width=1), layer="below"))
# legend frame
shapes.append(dict(type="rect", xref="paper", yref="paper",
                   x0=px_x(65), x1=px_x(241), y0=px_y(137), y1=px_y(45),
                   line=dict(color="#333333", width=1.2)))

xr = to_time([78, 791.4])
tick_t = to_time([h * 60 for h in hour_ticks])
xax = dict(type="date", range=[xr[0], xr[1]], tickvals=tick_t, ticktext=hour_labels,
           ticks="outside", ticklen=5, tickcolor="black", showline=True, linecolor="black",
           linewidth=1.2, showgrid=False, zeroline=False,
           tickfont=dict(family=FONT, size=15.5, color="black"))
xdom = [px_x(44), px_x(1378)]


def yax(rng, top, bottom, minor, vals, text, mcolor):
    return dict(range=rng, domain=[px_y(bottom), px_y(top)], showline=True, linecolor="black",
                linewidth=1.2, ticks="", zeroline=False, showgrid=True, gridcolor=MAJOR, gridwidth=1,
                tickmode="array", tickvals=vals, ticktext=text,
                tickfont=dict(family=FONT, size=15.5, color="black"),
                minor=dict(dtick=minor, showgrid=True, gridcolor=mcolor, gridwidth=1, ticks=""))


def title(text, p):
    return dict(text=text, x=(px_x(44) + px_x(1378)) / 2, y=px_y(p), xref="paper", yref="paper",
                xanchor="center", yanchor="middle", showarrow=False,
                font=dict(family=FONT, size=14.5, color="black"))


leg = dict(yanchor="top", xanchor="left", bgcolor="rgba(0,0,0,0)", borderwidth=0,
           traceorder="grouped", tracegroupgap=5,
           font=dict(family=FONT, size=12.5, color="black"))

fig.update_layout(
    width=W, height=H, margin=dict(l=0, r=0, t=0, b=0),
    paper_bgcolor="white", plot_bgcolor="white",
    font=dict(family=FONT, color="black"),
    xaxis=dict(xax, domain=xdom, anchor="y"),
    xaxis2=dict(xax, domain=xdom, anchor="y2"),
    xaxis3=dict(xax, domain=xdom, anchor="y3"),
    yaxis=yax([0.1, 6.7], 40, 340, 0.2, [1, 2, 3, 4, 5, 6], ["1", "2", "3", "4", "5", "6"], "#dadada"),
    yaxis2=yax([-1.34, 2.54], 395, 505, 0.1, [-1, 0, 1, 2], ["−1", "0", "1", "2"], "#f0f0f0"),
    yaxis3=yax([-0.19, 1.97], 562, 671, 0.05, [0, 0.5, 1.0, 1.5], ["0", "0.5", "1.0", "1.5"], "#e8e8e8"),
    shapes=shapes,
    legend=dict(leg, x=px_x(64), y=px_y(52)),
    legend2=dict(leg, x=px_x(158), y=px_y(52)),
    annotations=[title(title_top, 24), title(title_mid, 381), title(title_bot, 547)],
)

# drop the browser's default page margin so the figure fills the window exactly
fig.write_html("out.html", config={"displayModeBar": False},
               post_script="document.body.style.margin='0';")
